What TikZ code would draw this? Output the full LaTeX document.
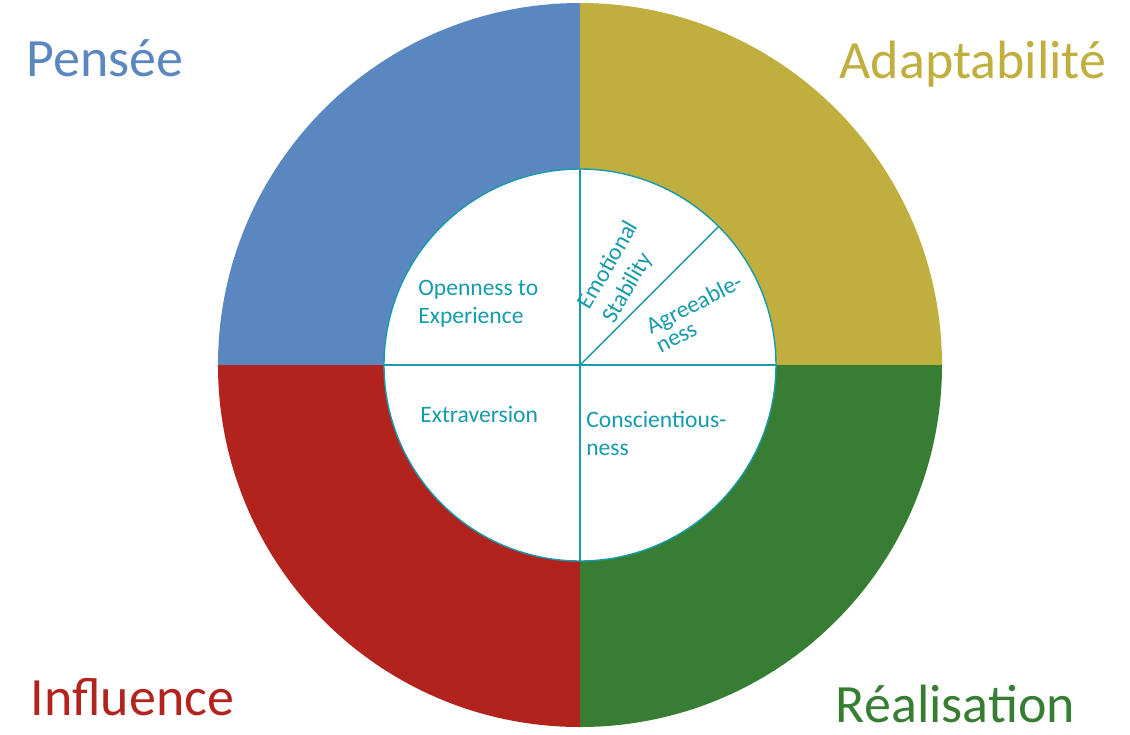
\documentclass[tikz,border=0pt]{standalone}
\usepackage{fontspec}
\setmainfont{Carlito}
\usepackage{xcolor}
\usepackage{tikz}

\definecolor{penseeBlue}{RGB}{91,135,193}
\definecolor{adaptYellow}{RGB}{192,174,63}
\definecolor{realGreen}{RGB}{55,126,52}
\definecolor{influRed}{RGB}{179,35,30}
\definecolor{traitTeal}{RGB}{22,155,170}

\begin{document}
\begin{tikzpicture}[title/.style={anchor=base, inner sep=0, font=\fontsize{30.7}{36}\selectfont}, trait/.style={text=traitTeal, inner sep=0, align=left, anchor=base west, font=\fontsize{13.4}{15.9}\selectfont}, divider/.style={draw=traitTeal, line width=0.8pt}]

\useasboundingbox (-11.6,-7.38) rectangle (11.0,7.3);

\foreach \start/\col in {90/penseeBlue, 0/adaptYellow, 270/realGreen, 180/influRed}
  \fill[\col] (0,0) -- (\start:7.24) arc (\start:\start+90:7.24) -- cycle;

\node[circle, divider, fill=white, inner sep=0, outer sep=0, minimum size=7.84cm] (innerCircle) at (0,0) {};

\draw [divider] (innerCircle.north)  -- (innerCircle.south);
\draw [divider] (innerCircle.west)   -- (innerCircle.east);
\draw [divider] (innerCircle.center) -- (innerCircle.45);

\node[title, text=penseeBlue]  (labelPensee)      at (-9.5,5.78)  {Pensée};
\node[title, text=adaptYellow] (labelAdapt)       at (7.86,5.74)  {Adaptabilité};
\node[title, text=influRed]    (labelInfluence)   at (-8.95,-7.0) {Influence};
\node[title, text=realGreen]   (labelRealisation) at (7.51,-7.14) {Réalisation};

% multi-line nodes sit on the baseline of their last line
\node[trait]           (traitOpenness)      at (-3.24,0.84) {Openness to\\Experience};
\node[trait]           (traitExtraversion)  at (-3.2,-1.14) {Extraversion};
\node[trait]           (traitConscientious) at (0.12,-1.8)  {Conscientious-\\ness};
\node[trait,rotate=60] (traitEmotional)     at (0.68,0.8)   {Emotional\\Stability};
\node[trait,rotate=27, font=\fontsize{13.4}{12}\selectfont] (traitAgreeable) at (1.61,0.23) {Agreeable-\\ness};
\end{tikzpicture}
\end{document}
